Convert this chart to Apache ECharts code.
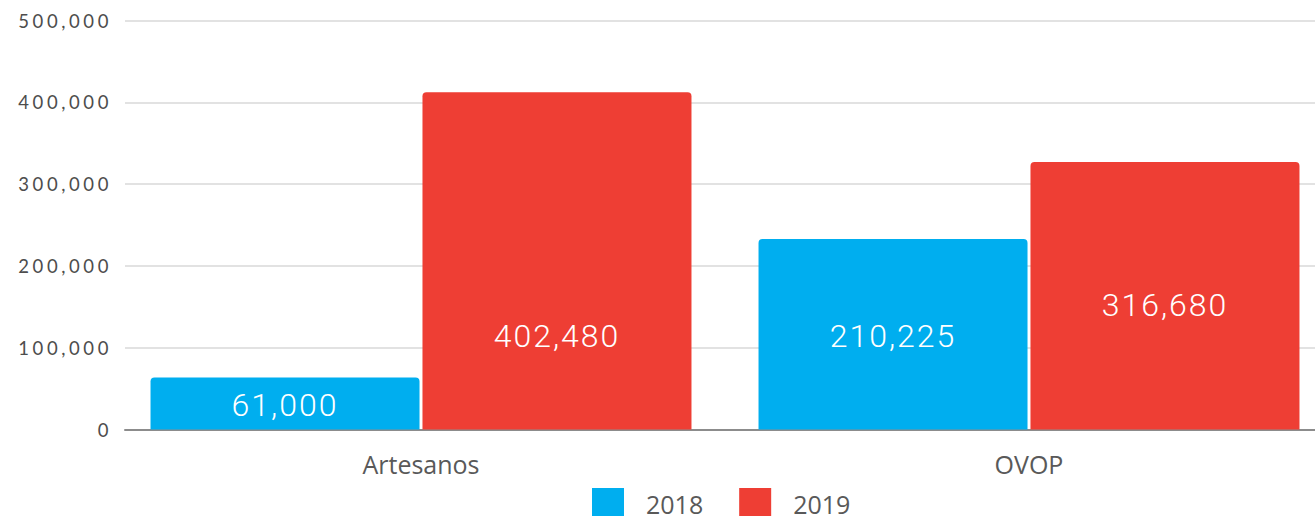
<!DOCTYPE html>
<html>
<head>
<meta charset="utf-8">
<script src="https://cdn.jsdelivr.net/npm/echarts@6/dist/echarts.min.js"></script>
<style>
  html, body { margin: 0; padding: 0; background: #fff; }
  #chart { width: 1315px; height: 516px; }
  /* the reference digits are set wide, so open them up a bit */
  #chart text[style*="Lato"], #chart text[font-family*="Lato"] { letter-spacing: 3.6px; }
  #chart text[style*="Roboto"], #chart text[font-family*="Roboto"] { letter-spacing: 2px; }
</style>
</head>
<body>
<div id="chart"></div>
<script>
const categories = ["Artesanos", "OVOP"];
const seriesNames = ["2018", "2019"];
// bar heights as drawn in the picture
const values2018 = [63600, 232900];
const values2019 = [412200, 327000];
// texts printed inside the bars
const labels2018 = ["61,000", "210,225"];
const labels2019 = ["402,480", "316,680"];
const yTicks = [0, 100000, 200000, 300000, 400000, 500000];

const colors = ["#00AEEF", "#EE3E34"];
// vertical nudges of the in-bar labels (px), style only
const labelNudge = [[2, 2], [75, 9]];

const fmt = v => v.toLocaleString("en-US");
const yMin = yTicks[0], yMax = yTicks[yTicks.length - 1], yStep = yTicks[1] - yTicks[0];

function makeSeries(idx, vals, texts) {
  return {
    name: seriesNames[idx],
    type: "bar",
    barWidth: 269,
    barGap: "1.1%",
    itemStyle: { color: colors[idx], borderRadius: [4, 4, 0, 0] },
    data: vals.map((v, i) => ({
      value: v,
      label: {
        show: true,
        position: "inside",
        offset: [0, labelNudge[idx][i]],
        formatter: () => texts[i],
        color: "#fff",
        fontFamily: "Roboto",
        fontWeight: 300,
        fontSize: 32,
      },
    })),
  };
}

const chart = echarts.init(document.getElementById("chart"), null, { renderer: "svg" });
chart.setOption({
  animation: false,
  // grid 0 holds the bars, grid 1 the value scale, gridlines and base line
  grid: [
    { left: 117, top: 20.5, width: 1216, height: 409, outerBoundsMode: "none" },
    { left: 125, top: 20.5, width: 1190, height: 409, outerBoundsMode: "none" },
  ],
  legend: {
    data: seriesNames,
    left: 592, top: 488, padding: 0,
    itemWidth: 32, itemHeight: 32, itemGap: 36,
    icon: "rect",
    textStyle: { fontFamily: "Open Sans", fontSize: 25, color: "#595959", padding: [0, 0, 0, 17] },
  },
  xAxis: [
    {
      type: "category",
      gridIndex: 0,
      data: categories,
      axisTick: { show: false },
      axisLine: { show: false },
      axisLabel: { fontFamily: "Open Sans", fontSize: 25, color: "#595959", margin: 22 },
    },
    {
      type: "value",
      gridIndex: 1,
      min: 0, max: 1,
      axisTick: { show: false },
      axisLabel: { show: false },
      splitLine: { show: false },
      axisLine: { show: true, lineStyle: { color: "#8c8c8c", width: 2 } },
    },
  ],
  yAxis: [
    {
      type: "value",
      gridIndex: 0,
      min: yMin, max: yMax, interval: yStep,
      show: false,
      splitLine: { show: false },
    },
    {
      type: "value",
      gridIndex: 1,
      min: yMin, max: yMax, interval: yStep,
      axisLine: { show: false },
      axisTick: { show: false },
      splitLine: { lineStyle: { color: "#d9d9d9", width: 1.5 } },
      axisLabel: { formatter: fmt, fontFamily: "Lato", fontSize: 18.5, color: "#4d4d4d", margin: 13 },
    },
  ],
  series: [
    makeSeries(0, values2018, labels2018),
    makeSeries(1, values2019, labels2019),
  ],
});
</script>
</body>
</html>
